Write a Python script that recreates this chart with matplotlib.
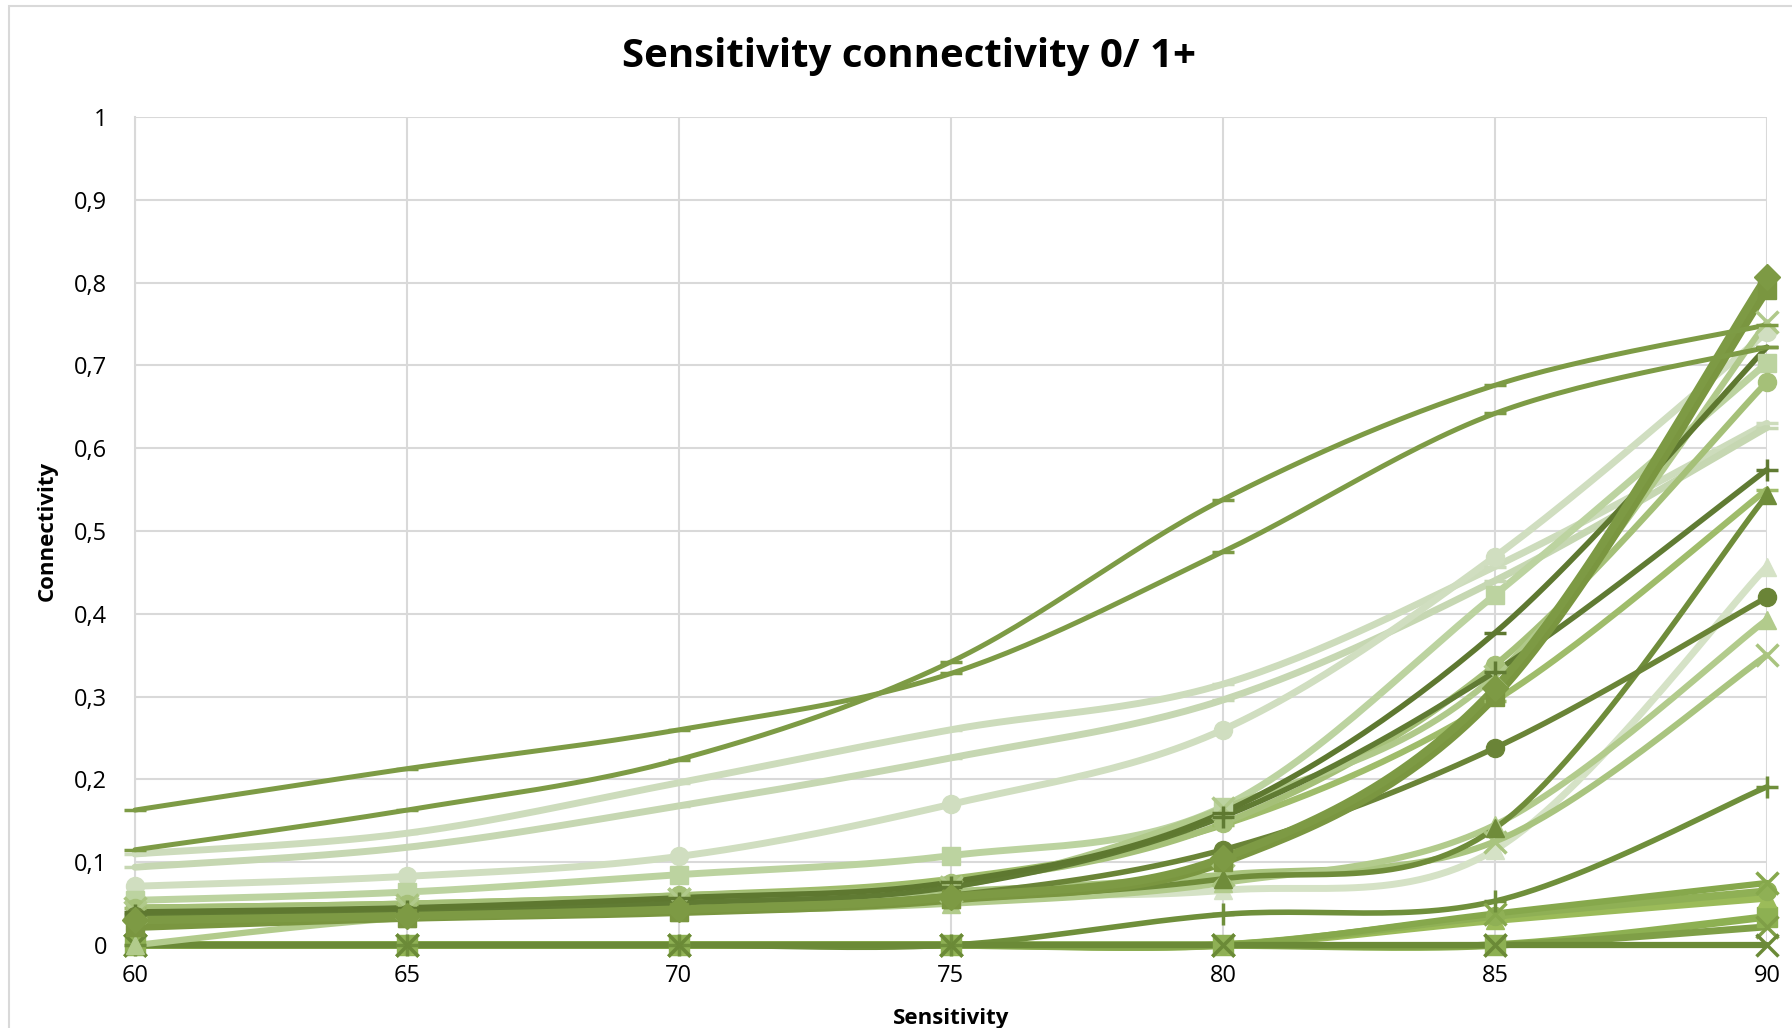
import numpy as np
import matplotlib.pyplot as plt
from matplotlib.patches import Rectangle
from matplotlib.ticker import FuncFormatter

plt.rcParams['font.family'] = ['Open Sans', 'DejaVu Sans']

sensitivity = [60, 65, 70, 75, 80, 85, 90]

# connectivity per series (one value per sensitivity)
s_a = [0.163, 0.213, 0.260, 0.328, 0.475, 0.642, 0.722]
s_b = [0.115, 0.163, 0.224, 0.342, 0.538, 0.676, 0.749]
s_c = [0.110, 0.135, 0.196, 0.260, 0.315, 0.457, 0.630]
s_d = [0.094, 0.118, 0.168, 0.226, 0.296, 0.440, 0.625]
s_e = [0.071, 0.083, 0.107, 0.170, 0.260, 0.469, 0.740]
s_f = [0.054, 0.064, 0.085, 0.108, 0.167, 0.423, 0.703]
s_g = [0.040, 0.045, 0.057, 0.076, 0.160, 0.377, 0.722]
s_h = [0.036, 0.041, 0.051, 0.070, 0.155, 0.330, 0.574]
s_i = [0.035, 0.037, 0.045, 0.060, 0.115, 0.238, 0.420]
s_j = [0.022, 0.033, 0.040, 0.055, 0.100, 0.300, 0.791]
s_k = [0.030, 0.035, 0.043, 0.058, 0.105, 0.310, 0.807]
s_l = [0.030, 0.035, 0.042, 0.055, 0.080, 0.141, 0.543]
s_m = [0.045, 0.050, 0.060, 0.075, 0.147, 0.338, 0.680]
s_n = [0.040, 0.045, 0.055, 0.070, 0.165, 0.325, 0.752]
s_o = [0.045, 0.050, 0.060, 0.080, 0.145, 0.295, 0.550]
s_p = [0.040, 0.045, 0.050, 0.060, 0.066, 0.115, 0.457]
s_q = [0.000, 0.033, 0.040, 0.050, 0.075, 0.145, 0.393]
s_r = [0.045, 0.048, 0.055, 0.065, 0.085, 0.125, 0.350]
s_s = [0.000, 0.000, 0.000, 0.000, 0.037, 0.053, 0.191]
s_t = [0.000, 0.000, 0.000, 0.000, 0.000, 0.038, 0.075]
s_u = [0.000, 0.000, 0.000, 0.000, 0.000, 0.035, 0.065]
s_v = [0.000, 0.000, 0.000, 0.000, 0.000, 0.030, 0.057]
s_w = [0.000, 0.000, 0.000, 0.000, 0.000, 0.000, 0.034]
s_x = [0.000, 0.000, 0.000, 0.000, 0.000, 0.000, 0.022]
s_y = [0.000, 0.000, 0.000, 0.000, 0.000, 0.000, 0.000]

# series, colour, marker, line width
series = [
    (s_w, '#8db052', 's', 5.5),
    (s_v, '#9bbb59', '^', 5.5),
    (s_u, '#8fb055', 'o', 5.5),
    (s_x, '#7f9f47', 'x', 5.0),
    (s_t, '#86a84c', 'x', 4.5),
    (s_s, '#6f8f3b', '+', 4.0),
    (s_y, '#6b8a37', 'x', 4.5),
    (s_c, '#cddcbc', '_', 5.0),
    (s_d, '#c6d7b2', '_', 5.0),
    (s_e, '#d0dec0', 'o', 5.0),
    (s_f, '#bcd3a0', 's', 5.0),
    (s_p, '#d5e2c6', '^', 5.0),
    (s_r, '#a9c47f', 'x', 4.5),
    (s_q, '#b2cb8c', '^', 4.5),
    (s_o, '#9fbc6a', '_', 4.5),
    (s_m, '#a5c078', 'o', 4.5),
    (s_n, '#b0c98a', 'x', 4.5),
    (s_l, '#6f8c3a', '^', 4.0),
    (s_i, '#6a8437', 'o', 4.0),
    (s_h, '#607b33', '+', 4.0),
    (s_g, '#5e7830', '_', 4.0),
    (s_j, '#7a9640', 's', 6.0),
    (s_k, '#7d9a44', 'D', 6.0),
    (s_a, '#7d9b45', '_', 3.6),
    (s_b, '#7d9b45', '_', 3.6),
]


def smooth(x, y, n=30):
    # Excel-style smoothed line: Bezier through the points (Catmull-Rom tangents)
    x = np.asarray(x, float)
    y = np.asarray(y, float)
    px = np.concatenate([[x[0]], x, [x[-1]]])
    py = np.concatenate([[y[0]], y, [y[-1]]])
    xs, ys = [], []
    t = np.linspace(0, 1, n)
    for i in range(len(x) - 1):
        p0 = np.array([px[i + 1], py[i + 1]])
        p3 = np.array([px[i + 2], py[i + 2]])
        p1 = p0 + (np.array([px[i + 2], py[i + 2]]) - np.array([px[i], py[i]])) / 6
        p2 = p3 - (np.array([px[i + 3], py[i + 3]]) - np.array([px[i + 1], py[i + 1]])) / 6
        bx = (1 - t) ** 3 * p0[0] + 3 * (1 - t) ** 2 * t * p1[0] + 3 * (1 - t) * t ** 2 * p2[0] + t ** 3 * p3[0]
        by = (1 - t) ** 3 * p0[1] + 3 * (1 - t) ** 2 * t * p1[1] + 3 * (1 - t) * t ** 2 * p2[1] + t ** 3 * p3[1]
        xs.extend(bx)
        ys.extend(by)
    return np.array(xs), np.array(ys)


fig = plt.figure(figsize=(17.92, 10.28), dpi=100)
ax = fig.add_axes([0.0753, 0.0807, 0.9107, 0.8055])

for vals, col, mk, lw in series:
    sx, sy = smooth(sensitivity, vals)
    ax.plot(sx, sy, color=col, lw=lw, solid_capstyle='round', zorder=3, clip_on=False)
    thin = mk in ('_', '+', 'x')
    ms = 16 if thin else 13
    if vals is s_w:
        ms = 15
    ax.plot(sensitivity, vals, ls='none', marker=mk, color=col,
            ms=ms, mew=2.5 if thin else 1, zorder=4, clip_on=False)

ax.set_xlim(60, 90)
ax.set_ylim(0, 1)
ax.set_xticks(sensitivity)
ax.set_yticks(np.arange(0, 1.01, 0.1))
ax.yaxis.set_major_formatter(FuncFormatter(lambda v, p: ('%g' % round(v, 1)).replace('.', ',')))
ax.grid(True, color='#d9d9d9', lw=1.5)
ax.set_axisbelow(True)
for sp in ax.spines.values():
    sp.set_visible(False)
ax.spines['left'].set_visible(True)
ax.spines['left'].set_color('#d9d9d9')
ax.spines['left'].set_linewidth(1.5)
ax.tick_params(length=0, labelsize=17, pad=14)
ax.tick_params(axis='y', pad=20)

fig.text(0.507, 0.945, 'Sensitivity connectivity 0/ 1+', fontsize=29, fontweight='bold',
         ha='center', va='center')
ax.set_xlabel('Sensitivity', fontsize=16, fontweight='bold', labelpad=14)
ax.set_ylabel('Connectivity', fontsize=16, fontweight='bold')
ax.yaxis.set_label_coords(-0.047, 0.5)

fig.add_artist(Rectangle((0.005, -0.05), 1.0, 1.044, transform=fig.transFigure,
                         fill=False, edgecolor='#d9d9d9', lw=1.5))

fig.savefig('out.png', dpi=100)
